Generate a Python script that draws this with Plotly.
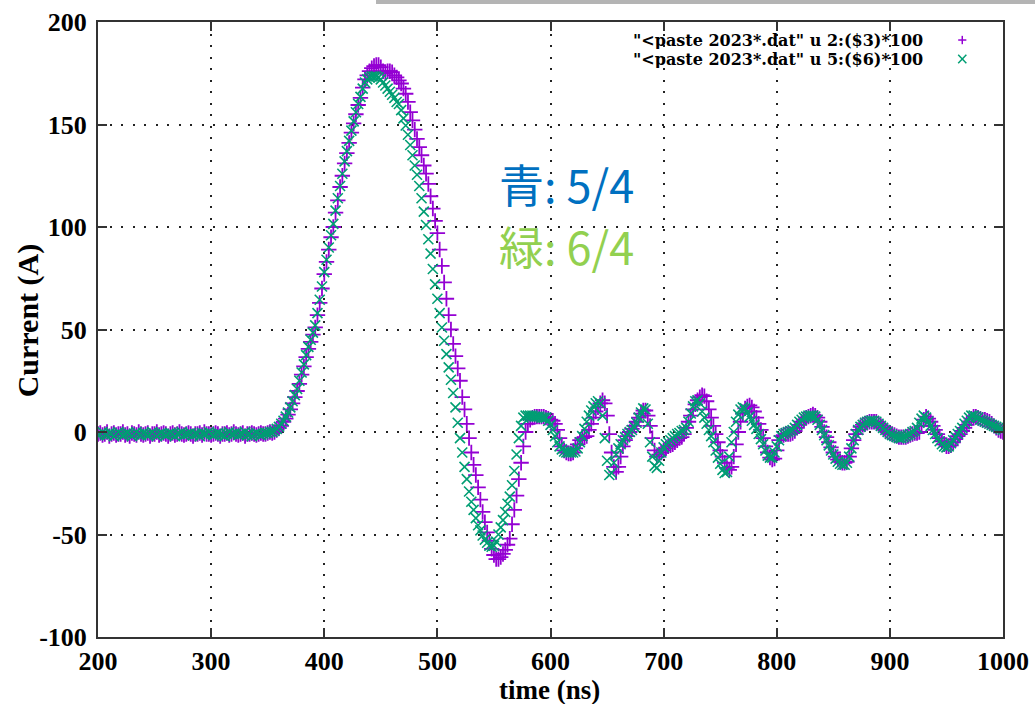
import plotly.graph_objects as go

# Sampling grid of the scope traces (ns)
t_start = 200
t_step = 2

# Channel 2 * 100 (A), one row per 20 ns
cur_a = [
    -1, -0.5, -1.5, -1, 0, -2, -1, -0.5, -1.5, -1,
    -1, 0, -1.5, -1, -2, -0.5, -1, -1.5, 0, -1,
    -1.5, -1, -0.5, -2, -1, -1, 0, -1.5, -1, -0.5,
    -1, -2, -1, -0.5, -1.5, -1, 0, -1, -1.5, -1,
    -0.5, -1, -2, -1, -1, -0.5, -1.5, 0, -1, -1,
    -1.5, -1, -0.5, -1, -2, -1, -1, -0.5, -1.5, -1,
    0, -1, -1.5, -1, -0.5, -2, -1, -1, -0.5, -1,
    -1.5, -1, -0.5, -1, -1, -0.5, 0, -0.5, 0, 1,
    2, 3, 5, 6.5, 8.5, 11, 14, 17, 20, 23.5,
    28, 32, 36.5, 40.5, 44, 47.5, 51, 57, 63, 70,
    77, 83, 89, 95, 100, 107, 113, 119.5, 125, 131,
    136, 141, 146, 150.5, 155, 159.5, 163, 168, 172, 174,
    176, 177.5, 178.5, 179, 179, 178, 176, 175, 176, 176,
    175.5, 174, 173, 171.5, 170, 167.5, 165, 161, 156, 152,
    147.5, 143, 139, 135, 130, 126, 121, 115, 109, 103,
    97, 89, 81, 73, 65, 57, 50, 43, 37, 31,
    25, 17, 11, 4, -3, -10, -16, -21, -27, -33,
    -39, -44, -49, -53, -57, -60, -62, -62, -61, -59.5,
    -57.5, -55, -52, -45, -38, -31, -23, -15, -7, 0,
    4, 6, 7, 7.5, 7.5, 7.5, 7.5, 7.5, 7, 6.5,
    6, 5.5, 4, 1, -3, -7, -9, -10, -10.5, -10.5,
    -10, -8, -6, -4, -3, -2.5, -2, 1, 4, 7,
    10, 12, 14, 15.5, 14, 8, -1, -10, -17, -19.5,
    -17, -12, -7, -4, -2, 0, 1.5, 3, 5, 7,
    9, 10.5, 10.5, 8, 3, -3, -9, -12, -11, -10,
    -9, -8, -7, -6.5, -6, -5, -4, -3, -2.5, -1,
    2, 5, 8, 11, 13.5, 15.5, 17, 18, 17.5, 15,
    11, 7, 3, -1, -5, -9, -12, -15, -17.5, -18.5,
    -17, -12, -6, 0, 5, 9, 11.5, 12.5, 13, 12,
    10, 7, 4, 1, -3, -7, -10, -12.5, -13.5, -13,
    -9, -4, -2, -1.5, -1, -1, -1, -0.5, 0.5, 2,
    3.5, 5, 6, 7, 7.5, 8, 8.5, 8, 7, 5,
    2.5, 0, -2.5, -5, -7.5, -10, -12, -13.5, -14.5, -15,
    -15, -14.5, -12, -8, -4, -1, 1, 2.5, 3.5, 4,
    4.5, 5, 5, 5, 5, 4, 3, 2, 1, 0,
    -0.5, -1, -1.5, -2, -2.5, -2.5, -2.5, -2.5, -2, -1.5,
    -1, -0.5, -0.5, 0, 3, 6, 7.5, 6.5, 5, 3,
    1, -1, -3, -4.5, -6, -7, -7, -6.5, -5, -3.5,
    -2, -1, 0.5, 2, 3.5, 5, 6.5, 7.5, 7.5, 7,
    6.5, 6, 6, 5.5, 5, 4, 3, 2, 1, 0.5,
    0,
]

# Channel 5 * 100 (A), one row per 20 ns
cur_b = [
    -1.5, -1, 0, -1, -1.5, -0.5, -1, -2, -1, 0,
    -1, -1.5, -1, -0.5, -1, -2, -1, 0, -1, -1.5,
    -0.5, -1, -1.5, -1, 0, -1, -2, -1, -0.5, -1,
    -1.5, -1, -0.5, -1, -2, -1, -1, 0, -1.5, -1,
    -1, -0.5, -1.5, -1, -1, -2, -0.5, -1, -1, 0,
    -1, -1.5, -1, -0.5, -1, -1.5, -2, -1, 0, -1,
    -1, -0.5, -1.5, -1, -1, 0, -1.5, -1, -2, -1,
    -0.5, -1, -1.5, -1, -0.5, -0.5, 0, 0, 0.5, 1.5,
    2.5, 4, 5.5, 7.5, 9.5, 12, 15, 18, 21, 25,
    29, 33, 37.5, 41.5, 45, 48.5, 52, 58, 64.5, 71,
    78, 84, 90, 96, 101.5, 108, 114, 120, 126, 132,
    137, 142, 147, 151.5, 156, 160, 163.5, 167.5, 170.5, 172,
    173, 173.5, 173.5, 173.5, 173, 172, 170.5, 169, 167.5, 166,
    164.5, 163, 161, 160, 157, 153, 149.5, 145, 140, 135,
    130, 125.5, 120, 114, 107.5, 101, 94, 87, 79.5, 72,
    65, 58, 51, 44.5, 38, 31.5, 25.5, 19, 12, 4.5,
    -3, -10, -17, -23, -29, -34, -38, -42, -45.5, -48,
    -50.5, -52.5, -54, -55.5, -56, -55.5, -53.5, -50, -46.5, -43,
    -39, -35, -31.5, -26, -19, -11, -3, 3, 7, 8,
    8, 8, 8, 7.5, 7.5, 7.5, 7, 7, 7, 5.5,
    3.5, 1, -2, -5, -7, -8.5, -9.5, -10, -10, -10,
    -10, -9.5, -8, -5, -2, 1.5, 5, 8, 10.5, 12.5,
    14, 15, 14, 8, -3, -14, -21, -20, -15, -11,
    -8, -6, -4, -2.5, -1, 0, 1, 2.5, 4.5, 7,
    9.5, 11.5, 11, 4, -5, -12, -16.5, -17.5, -14, -10,
    -7.5, -6, -5, -4, -3, -2, -1, -0.5, 0.5, 1,
    2, 5, 9, 12.5, 15, 15.5, 14, 10, 7, 4,
    1, -2, -5, -9, -12.5, -15.5, -18.5, -20, -19.5, -12,
    -5, 0, 5, 8.5, 11, 12, 11.5, 9.5, 7.5, 5.5,
    3.5, 1.5, -1, -3.5, -6, -9, -11.5, -12.5, -12.5, -10,
    -7, -4, -2, -1, -0.5, 0, 0.5, 1, 2, 3.5,
    5, 6, 7, 7.5, 8, 8, 8, 7.5, 6, 3.5,
    1, -1.5, -4, -6.5, -9, -11, -13, -14.5, -15.5, -16,
    -16, -15, -12, -8, -4, -1, 1, 2.5, 3.5, 4.5,
    5, 5.5, 5.5, 5.5, 5, 4, 3, 2, 1, 0,
    -1, -1.5, -2, -2.5, -3, -3, -2.5, -2, -1.5, -1,
    0, 0.5, 2, 4.5, 6.5, 8, 7, 5, 3, 1,
    -1, -3, -4.5, -6, -7, -7.5, -7, -5.5, -4, -2.5,
    -1, 0.5, 2, 4, 5.5, 7, 8, 8, 7.5, 7,
    6, 5.5, 5, 4.5, 4, 3.5, 3, 2.5, 2, 1.5,
    1,
]

label_a = '"<paste 2023*.dat" u 2:($3)*100'
label_b = '"<paste 2023*.dat" u 5:($6)*100'
note_blue = "青: 5/4"
note_green = "緑: 6/4"
x_title = "time (ns)"
y_title = "Current (A)"

x_ticks = [200, 300, 400, 500, 600, 700, 800, 900, 1000]
x_ticktext = ["200", "300", "400", "500", "600", "700", "800", "900", "1000"]
y_ticks = [-100, -50, 0, 50, 100, 150, 200]
y_ticktext = ["-100", "-50", "0", "50", "100", "150", "200"]

color_a = "#9400D3"
color_b = "#009E73"

t_a = [t_start + t_step * i for i in range(len(cur_a))]
t_b = [t_start + t_step * i for i in range(len(cur_b))]

fig = go.Figure()
fig.add_trace(go.Scatter(
    x=t_a, y=cur_a, mode="markers", name=label_a,
    marker=dict(symbol="cross-thin-open", size=11, color=color_a,
                line=dict(width=1.8, color=color_a)),
))
fig.add_trace(go.Scatter(
    x=t_b, y=cur_b, mode="markers", name=label_b,
    marker=dict(symbol="x-thin-open", size=10, color=color_b,
                line=dict(width=1.6, color=color_b)),
))

serif_bold = "Liberation Serif"
tick_font = dict(family=serif_bold, size=26, color="black", weight="bold")

axis_common = dict(
    showline=True, linecolor="#333333", linewidth=2, mirror="ticks",
    ticks="inside", ticklen=9, tickwidth=1.5, tickcolor="#333333",
    showgrid=True, gridcolor="#222222", gridwidth=1.5, griddash="2px,9.5px",
    zeroline=False, tickfont=tick_font, automargin=False,
)

fig.update_layout(
    width=1035, height=705,
    margin=dict(l=98, r=32, t=22, b=68),
    paper_bgcolor="white", plot_bgcolor="white",
    showlegend=False,
    xaxis=dict(range=[200, 1000], tickvals=x_ticks, ticktext=x_ticktext,
               ticklabelstandoff=0, **axis_common),
    yaxis=dict(range=[-100, 200], tickvals=y_ticks, ticktext=y_ticktext,
               ticklabelstandoff=4, **axis_common),
)

# Axis titles
fig.add_annotation(x=0.4994, y=-0.0862, xref="paper", yref="paper", text=x_title,
                   showarrow=False, xanchor="center", yanchor="middle", height=28,
                   font=dict(family=serif_bold, size=27, color="black", weight="bold"))
fig.add_annotation(x=-0.0773, y=0.515, xref="paper", yref="paper", text=y_title,
                   showarrow=False, xanchor="center", yanchor="middle", textangle=-90,
                   font=dict(family=serif_bold, size=30, color="black", weight="bold"))

# Key entries, gnuplot style: right-aligned text followed by the point sample
legend_font = dict(family="DejaVu Serif", size=16, color="black", weight="bold")
key_y = (0.9707, 0.9398)
for label, yp in zip((label_a, label_b), key_y):
    fig.add_annotation(x=0.914, y=yp, xref="paper", yref="paper", text=label,
                       showarrow=False, xanchor="right", yanchor="middle",
                       height=17, font=legend_font)

sx, sy = 0.0045, 0.0068
cx = 0.955
fig.add_shape(type="line", xref="paper", yref="paper", x0=cx - sx, x1=cx + sx,
              y0=key_y[0], y1=key_y[0], line=dict(color=color_a, width=1.5))
fig.add_shape(type="line", xref="paper", yref="paper", x0=cx, x1=cx,
              y0=key_y[0] - sy, y1=key_y[0] + sy, line=dict(color=color_a, width=1.5))
fig.add_shape(type="line", xref="paper", yref="paper", x0=cx - sx, x1=cx + sx,
              y0=key_y[1] - sy, y1=key_y[1] + sy, line=dict(color=color_b, width=1.5))
fig.add_shape(type="line", xref="paper", yref="paper", x0=cx - sx, x1=cx + sx,
              y0=key_y[1] + sy, y1=key_y[1] - sy, line=dict(color=color_b, width=1.5))

# Channel notes
cjk = "Noto Sans CJK JP"
fig.add_annotation(x=0.4409, y=0.738, xref="paper", yref="paper", text=note_blue,
                   showarrow=False, xanchor="left", yanchor="middle",
                   font=dict(family=cjk, size=45, color="#0070C0"))
fig.add_annotation(x=0.4409, y=0.637, xref="paper", yref="paper", text=note_green,
                   showarrow=False, xanchor="left", yanchor="middle",
                   font=dict(family=cjk, size=45, color="#92D050"))

# Thin grey strip along the top edge
fig.add_shape(type="rect", xref="paper", yref="paper", x0=0.3072, x1=1.04,
              y0=1.0293, y1=1.04, line=dict(width=0), fillcolor="#b4b4b4", layer="above")

fig.write_html("out.html")
